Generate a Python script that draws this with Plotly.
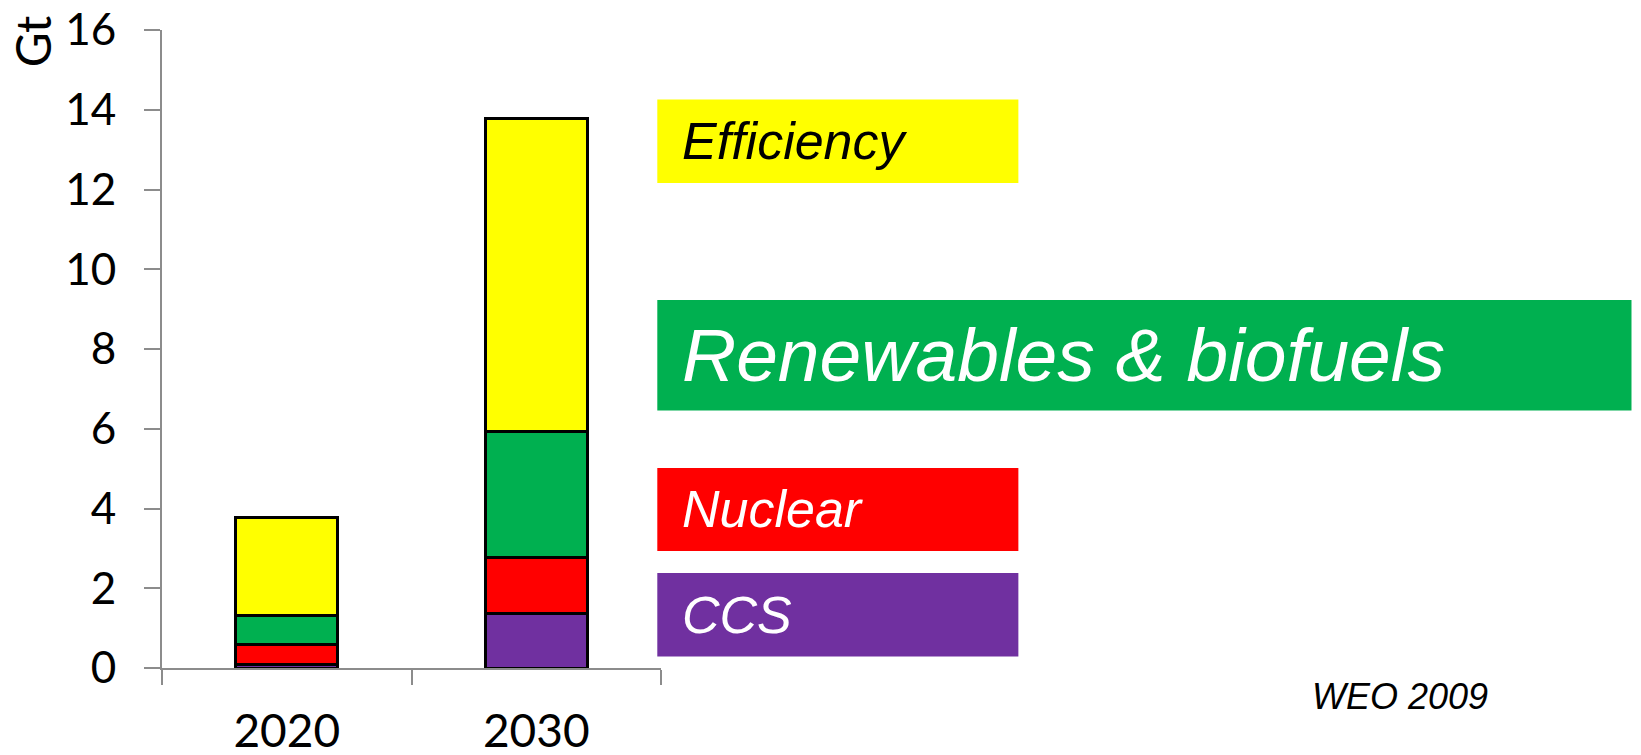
import plotly.graph_objects as go

years = ["2020", "2030"]
ccs = [0.10, 1.37]
nuclear = [0.49, 1.39]
renewables = [0.73, 3.17]
efficiency = [2.46, 7.86]

series_names = ["CCS", "Nuclear", "Renewables & biofuels", "Efficiency"]
series_values = [ccs, nuclear, renewables, efficiency]
series_colors = ["#7030A0", "#FF0000", "#00B050", "#FFFF00"]
label_text_colors = ["white", "white", "white", "black"]

y_ticks = [0, 2, 4, 6, 8, 10, 12, 14, 16]

W, H = 1641, 755
PL, PR, PT, PB = 161.8, 660.7, 30.0, 668.0


def px(x):
    return (x - PL) / (PR - PL)


def py(y):
    return (PB - y) / (PB - PT)


fig = go.Figure()
for name, vals, col in zip(series_names, series_values, series_colors):
    fig.add_trace(go.Bar(
        x=years, y=vals, name=name,
        marker=dict(color=col, line=dict(color="black", width=3)),
        width=0.41,
    ))

# label boxes in pixels: x0, x1, ytop, ybottom
boxes = {
    "Efficiency": (657, 1018, 99.4, 183),
    "Renewables & biofuels": (657, 1631, 300, 410.5),
    "Nuclear": (657, 1018, 468, 551),
    "CCS": (657, 1018, 573, 656.5),
}
sizes = {"Efficiency": 52, "Renewables & biofuels": 75, "Nuclear": 52, "CCS": 52}

for name, col, tcol in zip(series_names, series_colors, label_text_colors):
    x0, x1, yt, yb = boxes[name]
    fig.add_shape(type="rect", xref="paper", yref="paper",
                  x0=px(x0), x1=px(x1), y0=py(yb), y1=py(yt),
                  fillcolor=col, line=dict(width=0), layer="below")
    fig.add_annotation(xref="paper", yref="paper", x=px(680), y=py((yt + yb) / 2),
                       xanchor="left", yanchor="middle", showarrow=False,
                       text=name,
                       font=dict(family="Liberation Sans", size=sizes[name],
                                 color=tcol, style="italic"))

fig.add_annotation(xref="paper", yref="paper", x=px(1310), y=py(696),
                   xanchor="left", yanchor="middle", showarrow=False,
                   text="WEO 2009",
                   font=dict(family="Liberation Sans", size=36, color="black", style="italic"))

fig.add_annotation(xref="paper", yref="paper", x=px(32.5), y=py(41.5),
                   xanchor="center", yanchor="middle", showarrow=False,
                   text="Gt", textangle=-90,
                   font=dict(family="Lato", size=48, color="black"))

fig.update_layout(
    width=W, height=H,
    barmode="stack",
    showlegend=False,
    plot_bgcolor="white", paper_bgcolor="white",
    margin=dict(l=PL, r=W - PR, t=PT, b=H - PB, pad=0, autoexpand=False),
    xaxis=dict(
        type="category", range=[-0.5, 1.5], automargin=False,
        showline=True, linecolor="#8c8c8c", linewidth=2,
        ticks="outside", tickson="boundaries", ticklen=15, tickwidth=2, tickcolor="#8c8c8c",
        tickfont=dict(family="Lato", size=46, color="black"),
        ticklabelstandoff=22, ticklabeloverflow="allow",
        showgrid=False, zeroline=False,
    ),
    yaxis=dict(
        range=[0, 16], tickvals=y_ticks, automargin=False,
        showline=True, linecolor="#8c8c8c", linewidth=2,
        ticks="outside", ticklen=16, tickwidth=2, tickcolor="#8c8c8c",
        tickfont=dict(family="Lato", size=44, color="black"),
        ticklabelstandoff=19, ticklabeloverflow="allow",
        showgrid=False, zeroline=False,
    ),
)

fig.write_html("out.html",
               config={"displayModeBar": False},
               post_script="document.body.style.margin='0';document.body.style.overflow='hidden';")
